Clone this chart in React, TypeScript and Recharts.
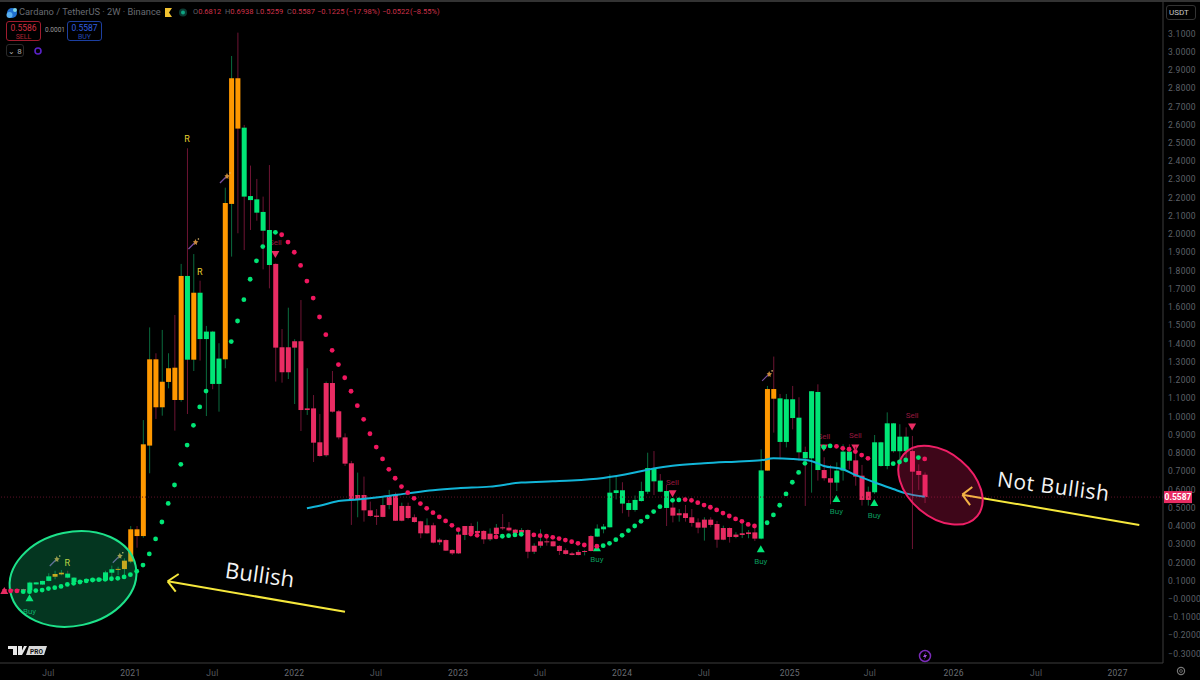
import React from "react";
import {
  ComposedChart,
  Bar,
  Line,
  XAxis,
  YAxis,
  ReferenceDot,
  ReferenceLine,
} from "recharts";

// 2W ADA/USDT candles
const opens = [
  0.053, 0.052, 0.053, 0.054, 0.046, 0.08, 0.079, 0.099, 0.122, 0.135,
  0.139, 0.117, 0.093, 0.099, 0.099, 0.1, 0.102, 0.144, 0.161, 0.164,
  0.205, 0.382, 0.345, 0.841, 1.314, 1.051, 1.19, 1.268, 1.091, 1.771,
  1.312, 1.679, 1.425, 1.466, 1.179, 1.314, 2.166, 2.855, 2.584, 2.209,
  2.191, 2.122, 2.023, 1.837, 1.38, 1.243, 1.378, 1.413, 1.036, 1.045,
  0.859, 0.788, 1.184, 1.029, 0.886, 0.744, 0.543, 0.57, 0.486, 0.457,
  0.45, 0.515, 0.57, 0.429, 0.51, 0.448, 0.426, 0.36, 0.404, 0.311,
  0.323, 0.269, 0.25, 0.351, 0.4, 0.362, 0.373, 0.327, 0.356, 0.393,
  0.391, 0.38, 0.364, 0.378, 0.259, 0.292, 0.316, 0.316, 0.291, 0.267,
  0.25, 0.241, 0.258, 0.263, 0.342, 0.382, 0.393, 0.581, 0.596, 0.526,
  0.488, 0.537, 0.588, 0.716, 0.649, 0.592, 0.501, 0.459, 0.47, 0.448,
  0.42, 0.391, 0.435, 0.411, 0.325, 0.389, 0.34, 0.351, 0.356, 0.365,
  0.331, 0.704, 1.151, 1.1, 0.861, 1.095, 0.994, 0.806, 0.771, 1.135,
  0.707, 0.662, 0.638, 0.704, 0.808, 0.76, 0.676, 0.543, 0.585, 0.859,
  0.729, 0.963, 0.81, 0.89, 0.811, 0.702, 0.6812,
];
const highs = [
  0.055, 0.054, 0.055, 0.056, 0.095, 0.092, 0.1, 0.141, 0.155, 0.159,
  0.155, 0.12, 0.104, 0.11, 0.113, 0.115, 0.155, 0.183, 0.177, 0.223,
  0.4, 0.4, 0.981, 1.489, 1.347, 1.475, 1.347, 1.557, 1.837, 2.471,
  1.891, 1.745, 1.497, 1.47, 1.402, 2.255, 2.977, 3.105, 2.599, 2.376,
  2.303, 2.206, 2.379, 1.84, 1.48, 1.597, 1.424, 1.639, 1.265, 1.118,
  1.014, 1.192, 1.25, 1.036, 0.908, 0.757, 0.693, 0.671, 0.534, 0.493,
  0.561, 0.598, 0.583, 0.528, 0.528, 0.464, 0.429, 0.442, 0.418, 0.333,
  0.327, 0.272, 0.369, 0.4, 0.415, 0.424, 0.378, 0.387, 0.411, 0.466,
  0.422, 0.384, 0.389, 0.382, 0.305, 0.382, 0.351, 0.32, 0.296, 0.278,
  0.258, 0.269, 0.269, 0.35, 0.409, 0.411, 0.683, 0.671, 0.64, 0.543,
  0.567, 0.643, 0.802, 0.811, 0.685, 0.625, 0.528, 0.493, 0.515, 0.493,
  0.442, 0.448, 0.448, 0.428, 0.402, 0.392, 0.366, 0.415, 0.378, 0.409,
  0.82, 1.168, 1.329, 1.124, 1.124, 1.168, 1.106, 0.835, 1.139, 1.177,
  0.777, 0.735, 0.749, 0.848, 0.848, 0.835, 0.735, 0.616, 0.899, 0.862,
  1.023, 0.965, 0.958, 0.941, 0.894, 0.738, 0.6938,
];
const lows = [
  0.044, 0.044, 0.044, 0.042, 0.031, 0.079, 0.078, 0.097, 0.108, 0.13,
  0.113, 0.077, 0.082, 0.095, 0.096, 0.098, 0.099, 0.122, 0.13, 0.122,
  0.196, 0.281, 0.336, 0.689, 0.987, 1.005, 1.155, 0.923, 1.082, 1.014,
  1.25, 1.307, 1.003, 1.15, 1.027, 1.265, 1.877, 2.005, 1.913, 2.023,
  2.074, 1.807, 1.703, 1.192, 1.186, 1.206, 1.069, 0.921, 1.009, 0.751,
  0.78, 0.78, 1.022, 0.875, 0.729, 0.406, 0.448, 0.424, 0.451, 0.406,
  0.448, 0.492, 0.428, 0.426, 0.437, 0.418, 0.333, 0.357, 0.305, 0.296,
  0.263, 0.241, 0.247, 0.323, 0.345, 0.36, 0.302, 0.318, 0.351, 0.378,
  0.369, 0.356, 0.347, 0.223, 0.247, 0.281, 0.292, 0.287, 0.241, 0.243,
  0.239, 0.239, 0.239, 0.261, 0.34, 0.36, 0.392, 0.546, 0.47, 0.451,
  0.479, 0.534, 0.576, 0.57, 0.585, 0.4, 0.42, 0.424, 0.424, 0.397,
  0.36, 0.32, 0.393, 0.281, 0.322, 0.309, 0.333, 0.334, 0.333, 0.318,
  0.327, 0.704, 0.912, 0.766, 0.831, 0.93, 0.758, 0.51, 0.583, 0.649,
  0.649, 0.519, 0.592, 0.649, 0.711, 0.621, 0.512, 0.512, 0.576, 0.725,
  0.711, 0.802, 0.744, 0.753, 0.274, 0.598, 0.5259,
];
const closes = [
  0.046, 0.046, 0.047, 0.046, 0.09, 0.091, 0.099, 0.124, 0.137, 0.144,
  0.117, 0.093, 0.1, 0.108, 0.111, 0.113, 0.146, 0.163, 0.165, 0.21,
  0.382, 0.345, 0.848, 1.314, 1.051, 1.191, 1.265, 1.091, 1.771, 1.312,
  1.679, 1.425, 1.466, 1.179, 1.318, 2.171, 2.855, 2.579, 2.206, 2.187,
  2.118, 2.019, 1.831, 1.378, 1.243, 1.38, 1.413, 1.036, 1.045, 0.857,
  0.784, 1.184, 1.027, 0.886, 0.742, 0.543, 0.57, 0.486, 0.455, 0.45,
  0.515, 0.567, 0.429, 0.51, 0.444, 0.422, 0.36, 0.404, 0.309, 0.325,
  0.265, 0.25, 0.353, 0.4, 0.356, 0.373, 0.327, 0.358, 0.391, 0.387,
  0.376, 0.362, 0.378, 0.259, 0.292, 0.316, 0.314, 0.289, 0.263, 0.247,
  0.241, 0.258, 0.263, 0.345, 0.386, 0.397, 0.583, 0.596, 0.523, 0.488,
  0.543, 0.592, 0.718, 0.645, 0.588, 0.499, 0.457, 0.47, 0.444, 0.417,
  0.391, 0.435, 0.406, 0.325, 0.389, 0.34, 0.353, 0.36, 0.365, 0.331,
  0.705, 1.151, 1.098, 0.861, 1.095, 0.992, 0.804, 0.771, 1.139, 0.707,
  0.662, 0.638, 0.704, 0.808, 0.758, 0.671, 0.543, 0.588, 0.859, 0.729,
  0.963, 0.81, 0.89, 0.81, 0.698, 0.68, 0.5587,
];
// candle colour state per run: r = bearish, g = bullish, o = strong bullish
const trendRuns: [string, number][] = [
  ["r", 4], ["g", 4], ["o", 2], ["g", 8], ["o", 11], ["g", 1], ["o", 1], ["g", 4],
  ["o", 3], ["g", 5], ["r", 51], ["g", 12], ["r", 14], ["g", 1], ["o", 2], ["g", 7],
  ["r", 2], ["g", 3], ["r", 3], ["g", 6], ["r", 3],
];
// trailing stop dots, null where the candle covers the dot in the picture
const sar = [
  0.044, 0.044, 0.044, 0.04, 0.04, 0.046, 0.049, 0.057, 0.062, 0.069,
  0.08, 0.086, 0.093, 0.099, 0.104, 0.106, 0.108, 0.111, 0.113, 0.121,
  0.133, 0.152, 0.186, 0.247, 0.329, 0.422, 0.524, 0.625, 0.738, 0.844,
  0.952, 1.053, 1.14, null, null, null, 1.411, 1.524, 1.641, 1.753,
  1.854, 1.932, null, 2.01, 1.997, 1.957, 1.901, 1.829, 1.743, 1.65,
  1.546, 1.449, 1.363, 1.285, 1.213, 1.139, 1.06, 0.985, 0.906, 0.833,
  0.768, 0.711, 0.662, 0.616, 0.583, 0.552, 0.523, 0.497, 0.473, 0.45,
  0.428, 0.404, 0.38, null, 0.356, 0.349, null, null, 0.34, 0.344,
  0.347, 0.351, 0.355, null, 0.351, 0.347, 0.344, 0.338, 0.331, 0.323,
  0.314, 0.305, 0.296, null, 0.289, 0.292, 0.305, 0.325, 0.349, 0.375,
  0.4, 0.426, 0.45, 0.479, 0.506, null, 0.541, 0.543, 0.545, 0.541,
  0.528, 0.515, 0.503, 0.488, 0.471, 0.455, 0.439, 0.426, 0.409, 0.4,
  null, 0.418, 0.461, 0.514, 0.576, 0.64, 0.694, 0.744, null, null,
  0.832, 0.839, 0.837, 0.826, 0.821, 0.808, 0.789, 0.771, null, null,
  null, 0.742, 0.751, 0.762, null, 0.775, 0.768,
];
const sarGreenRuns = [[3, 43], [79, 82], [95, 107], [120, 131], [138, 143], [145, 145]];
// moving average, sampled where it could be read
const maIndex = [48, 50, 53, 56, 60, 64, 68, 72, 77, 82, 87, 90, 95, 100, 103, 106, 111, 116, 120, 122, 125, 128, 130, 133, 135, 138, 141, 143, 146];
const maValue = [0.497, 0.511, 0.537, 0.546, 0.561, 0.579, 0.596, 0.607, 0.616, 0.638, 0.645, 0.649, 0.663, 0.693, 0.715, 0.731, 0.744, 0.753, 0.76, 0.771, 0.768, 0.757, 0.729, 0.711, 0.68, 0.64, 0.603, 0.579, 0.561];

const priceTicks = [3.1, 3.0, 2.9, 2.8, 2.7, 2.6, 2.5, 2.4, 2.3, 2.2, 2.1, 2.0, 1.9, 1.8, 1.7, 1.6, 1.5, 1.4, 1.3, 1.2, 1.1, 1.0, 0.9, 0.8, 0.7, 0.6, 0.5, 0.4, 0.3, 0.2, 0.1, 0, -0.1, -0.2, -0.3];
const lastPrice = 0.5587;
const timeTicks = [7, 20, 33, 46, 59, 72, 85, 98, 111, 124.6, 137.3, 150.6, 163.7, 176.6];
const timeLabels = ["Jul", "2021", "Jul", "2022", "Jul", "2023", "Jul", "2024", "Jul", "2025", "Jul", "2026", "Jul", "2027"];

// [bar, triangle price, label price]
const buySignals = [[4, 0.004, -0.064], [94, 0.278, 0.219], [120, 0.272, 0.207], [132, 0.548, 0.481], [138, 0.526, 0.459]];
const sellSignals = [[43, 1.891, 1.959], [106, 0.579, 0.64], [130, 0.83, 0.894], [135, 0.831, 0.897], [144, 0.945, 1.011]];
const rockets = [[8, 0.208], [18, 0.226], [30, 1.946], [35, 2.308], [121, 1.223]];
const rMarks = [[10, 0.196], [29, 2.522], [31, 1.793]];

const trend = trendRuns.flatMap(([t, n]) => Array(n).fill(t));
const isSarGreen = (i: number) => sarGreenRuns.some(([a, b]) => i >= a && i <= b);

const data = opens.map((open, i) => {
  const maAt = maIndex.indexOf(i);
  return {
    i,
    open,
    high: highs[i],
    low: lows[i],
    close: closes[i],
    trend: trend[i],
    sarGreen: isSarGreen(i) ? sar[i] : null,
    sarRed: isSarGreen(i) || i === 0 ? null : sar[i],
    ma: maAt >= 0 ? maValue[maAt] : null,
  };
});

const BODY: Record<string, string> = { g: "#00e676", o: "#ff9800", r: "#e92c63" };
const WICK_UP = "#0a6b3e";
const WICK_DOWN = "#6d1433";
const GREEN = "#00e676";
const PINK = "#f0175f";
const YELLOW = "#f6e83c";
const AXIS = "#3c3c3c";
const FONT = "Roboto, 'Liberation Sans', sans-serif";

function Candle(props: any) {
  const { x, y, width, height, payload } = props;
  const { open, high, low, close, trend: t } = payload;
  const perUnit = height / (high - low);
  const top = y + (high - Math.max(open, close)) * perUnit;
  const bodyH = Math.max(Math.abs(open - close) * perUnit, 1);
  const cx = x + width / 2;
  return (
    <g>
      <line x1={cx} x2={cx} y1={y} y2={y + height} stroke={close >= open ? WICK_UP : WICK_DOWN} strokeWidth={1} />
      <rect x={x} y={top} width={width} height={bodyH} fill={BODY[t]} />
    </g>
  );
}

function PriceTick(props: any) {
  const { x, y, payload } = props;
  if (payload.value === lastPrice) {
    return (
      <g>
        <rect x={x - 7} y={y - 6} width={28} height={12} fill="#e92c63" />
        <text x={x + 7} y={y + 3} textAnchor="middle" fontSize={8.5} fontFamily={FONT} fontWeight={700} fill="#fff">
          {lastPrice.toFixed(4)}
        </text>
      </g>
    );
  }
  const label = payload.value === 0 ? "\u22120.0000" : payload.value.toFixed(4).replace("-", "\u2212");
  return (
    <text x={x - 3} y={y + 3} fontSize={8.5} letterSpacing={0.3} fontFamily={FONT} fill="#5f6269">
      {label}
    </text>
  );
}

function TimeTick(props: any) {
  const { x, y, payload } = props;
  const label = timeLabels[timeTicks.indexOf(payload.value)];
  return (
    <text x={x} y={y + 5} textAnchor="middle" fontSize={8.5} fontFamily={FONT} letterSpacing={0.3} fill={label === "Jul" ? "#55585e" : "#6a6d73"}>
      {label}
    </text>
  );
}

const triangle = (cx: number, cy: number, up: boolean, fill: string) => (
  <path
    d={up ? `M${cx} ${cy - 4}L${cx + 4} ${cy + 3}L${cx - 4} ${cy + 3}Z` : `M${cx} ${cy + 4}L${cx + 4} ${cy - 3}L${cx - 4} ${cy - 3}Z`}
    fill={fill}
  />
);

const Label = (text: string, fill: string, size = 8) => (p: any) => (
  <text x={p.cx} y={p.cy + 3} textAnchor="middle" fontSize={size} fontFamily={FONT} fill={fill}>
    {text}
  </text>
);

const Wand = (p: any) => (
  <g transform={`translate(${p.cx} ${p.cy})`}>
    <line x1={-5} y1={5} x2={2} y2={-2} stroke="#7a4fa0" strokeWidth={1.2} />
    <path d="M2 -5L3 -3L5 -2.5L3.4 -1L3.6 1L2 0L0.5 1L1 -1L-0.5 -2.5L1.2 -3Z" fill="#c88a3c" />
    <circle cx={5} cy={-5} r={0.8} fill="#e8c070" />
  </g>
);

const Ellipse = (rx: number, ry: number, rot: number, fill: string, opacity: number, stroke: string) => (p: any) => (
  <ellipse cx={p.cx} cy={p.cy} rx={rx} ry={ry} transform={`rotate(${rot} ${p.cx} ${p.cy})`} fill={fill} fillOpacity={opacity} stroke={stroke} strokeWidth={2} />
);

const Note = (text: string, rot: number, size: number, spacing: number) => (p: any) => (
  <text
    x={p.cx}
    y={p.cy}
    transform={`rotate(${rot} ${p.cx} ${p.cy})`}
    textAnchor="middle"
    dominantBaseline="middle"
    fontFamily="'Open Sans', sans-serif"
    fontSize={size}
    letterSpacing={spacing}
    fill="#f4f4f4"
  >
    {text}
  </text>
);

const segment = (a: number[], b: number[]) => [{ x: a[0], y: a[1] }, { x: b[0], y: b[1] }];

const bullishArrow = [
  segment([25.92, 0.097], [54.04, -0.07]),
  segment([25.92, 0.097], [27.66, 0.137]),
  segment([25.92, 0.097], [27.19, 0.04]),
];
const notBullishArrow = [
  segment([151.97, 0.572], [180.04, 0.406]),
  segment([151.97, 0.572], [153.55, 0.614]),
  segment([151.97, 0.572], [153.2, 0.515]),
];

const box: React.CSSProperties = {
  position: "absolute",
  boxSizing: "border-box",
  borderRadius: 3,
  textAlign: "center",
  fontFamily: FONT,
  lineHeight: "9px",
  whiteSpace: "nowrap",
};
const abs = (left: number, top: number, color: string, fontSize: number, extra: React.CSSProperties = {}): React.CSSProperties => ({
  position: "absolute",
  left,
  top,
  color,
  fontSize,
  fontFamily: FONT,
  whiteSpace: "nowrap",
  ...extra,
});

const RED_TXT = "#d0324a";
const ohlcKeys = ["O", "H", "L", "C"];
const ohlcValues = ["0.6812", "0.6938", "0.5259", "0.5587"];
const ohlcLeft = [193, 225, 256, 287];
const changeTexts = ["\u22120.1225", "(\u221217.98%)", "\u22120.0522", "(\u22128.55%)"];
const changeLeft = [317, 346, 382, 410];

function Header() {
  return (
    <>
      <div style={{ position: "absolute", left: 0, top: 0, width: 1200, height: 2, background: "#333" }} />
      <svg style={{ position: "absolute", left: 5, top: 7 }} width={13} height={13}>
        <circle cx={7} cy={6} r={5} fill="#1f6fd0" />
        <circle cx={4.5} cy={8} r={3} fill="#5ab0f0" />
        <circle cx={10} cy={3} r={2} fill="#7fd6e8" />
      </svg>
      <div style={abs(19, 6, "#686b72", 9.3)}>Cardano / TetherUS · 2W · Binance</div>
      <svg style={{ position: "absolute", left: 165, top: 8 }} width={26} height={10}>
        <path d="M0 0H7V9H0Z M7 0L4 4.5L7 9Z" fill="#f2c230" />
        <circle cx={18} cy={4.5} r={4} fill="#0b3b33" />
        <circle cx={18} cy={4.5} r={2} fill="#0ea583" />
      </svg>
      {ohlcKeys.map((k, n) => (
        <div key={k} style={abs(ohlcLeft[n], 7, RED_TXT, 7.5)}>
          <span style={{ color: "#5f6269" }}>{k}</span>
          {ohlcValues[n]}
        </div>
      ))}
      {changeTexts.map((t, n) => (
        <div key={t} style={abs(changeLeft[n], 7, RED_TXT, 7.5)}>
          {t}
        </div>
      ))}

      <div style={{ ...box, left: 6, top: 21, width: 35, height: 20, border: "1px solid #a01c2e", color: "#d22f40", fontSize: 8.5, paddingTop: 2 }}>
        0.5586
        <div style={{ fontSize: 7, color: "#b02435" }}>SELL</div>
      </div>
      <div style={abs(45, 26, "#9a9a9a", 6.5)}>0.0001</div>
      <div style={{ ...box, left: 67, top: 21, width: 35, height: 20, border: "1px solid #1c3fa0", color: "#2f5fe0", fontSize: 8.5, paddingTop: 2 }}>
        0.5587
        <div style={{ fontSize: 7, color: "#2448b0" }}>BUY</div>
      </div>
      <div style={{ ...box, left: 6, top: 44, width: 18, height: 13, border: "1px solid #2a2a2a", color: "#b0b0b0", fontSize: 8, paddingTop: 1.5 }}>
        ⌄ 8
      </div>
      <svg style={{ position: "absolute", left: 33, top: 46 }} width={10} height={10}>
        <circle cx={5} cy={5} r={3} fill="none" stroke="#5a22c8" strokeWidth={1.6} />
      </svg>

      <div style={{ ...box, left: 1166, top: 5, width: 30, height: 15, border: "1px solid #333", color: "#c8c8c8", fontSize: 8, lineHeight: "13px", textAlign: "left", paddingLeft: 2 }}>
        USDT
      </div>

      <svg style={{ position: "absolute", left: 8, top: 646 }} width={42} height={11}>
        <path d="M0 0H9V9H5V3H0Z M10 0H14V9H10Z" fill="#e8e8e8" />
        <path d="M16 0H19L14 9H12Z" fill="#e8e8e8" />
        <path d="M21 0H39L36 9H18Z" fill="#d8d8d8" />
        <text x={28.5} y={7.5} textAnchor="middle" fontSize={6.5} fontWeight={700} fontFamily={FONT} fill="#111">
          PRO
        </text>
      </svg>
      <svg style={{ position: "absolute", left: 918, top: 649 }} width={14} height={14}>
        <circle cx={7} cy={7} r={5.5} fill="none" stroke="#7a2bb8" strokeWidth={1.5} />
        <path d="M8 3L5 8H7L6 11L9 6H7Z" fill="#a24be0" />
      </svg>
      <svg style={{ position: "absolute", left: 1175, top: 665 }} width={12} height={12}>
        <circle cx={6} cy={6} r={3.6} fill="none" stroke="#777" strokeWidth={1.2} />
        <circle cx={6} cy={6} r={1.4} fill="none" stroke="#777" strokeWidth={0.8} />
      </svg>
    </>
  );
}

export default function App() {
  return (
    <div style={{ position: "absolute", left: 0, top: 0, width: 1200, height: 680, background: "#000", overflow: "hidden" }}>
      <ComposedChart width={1200} height={680} data={data} margin={{ top: 2, right: 0, bottom: 0, left: 0 }}>
        <XAxis
          dataKey="i"
          type="number"
          domain={[-0.682, 183.8]}
          ticks={timeTicks}
          interval={0}
          height={17}
          tick={<TimeTick />}
          tickLine={false}
          axisLine={{ stroke: AXIS }}
          allowDataOverflow
        />
        <YAxis
          orientation="right"
          type="number"
          domain={[-0.351, 3.273]}
          ticks={[...priceTicks, lastPrice]}
          interval={0}
          width={37}
          tick={<PriceTick />}
          tickLine={false}
          axisLine={{ stroke: AXIS }}
          allowDataOverflow
        />

        <ReferenceLine y={lastPrice} stroke="#5c1027" strokeDasharray="1 2" />

        <Line dataKey="sarGreen" stroke="none" dot={{ r: 2.4, fill: GREEN, stroke: "none" }} isAnimationActive={false} zIndex={280} />
        <Line dataKey="sarRed" stroke="none" dot={{ r: 2.4, fill: PINK, stroke: "none" }} isAnimationActive={false} zIndex={280} />

        {sellSignals.map(([i, tri]) => (
          <ReferenceDot key={`st${i}`} x={i} y={tri} r={1} zIndex={290} shape={(p: any) => triangle(p.cx, p.cy, false, "#e92c63")} />
        ))}
        {sellSignals.map(([i, , lab]) => (
          <ReferenceDot key={`sl${i}`} x={i} y={lab} r={1} zIndex={290} shape={Label("Sell", "#96183f")} />
        ))}

        <Bar dataKey={(d: any) => [d.low, d.high]} barSize={5} shape={<Candle />} isAnimationActive={false} zIndex={300} />

        <Line dataKey="ma" stroke="#12b5d8" strokeWidth={2} dot={false} connectNulls type="monotone" isAnimationActive={false} />

        <ReferenceDot x={0} y={0.044} r={1} shape={(p: any) => triangle(p.cx, p.cy, true, "#e92c63")} />
        {buySignals.map(([i, tri]) => (
          <ReferenceDot key={`bt${i}`} x={i} y={tri} r={1} shape={(p: any) => triangle(p.cx, p.cy, true, GREEN)} />
        ))}
        {buySignals.map(([i, , lab]) => (
          <ReferenceDot key={`bl${i}`} x={i} y={lab} r={1} shape={Label("Buy", "#0a9a5c")} />
        ))}
        {rockets.map(([i, v]) => (
          <ReferenceDot key={`w${i}`} x={i} y={v} r={1} shape={Wand} />
        ))}
        {rMarks.map(([i, v]) => (
          <ReferenceDot key={`r${i}`} x={i} y={v} r={1} shape={Label("R", "#e6d230", 9)} />
        ))}

        <ReferenceDot x={10.9} y={0.11} r={1} shape={Ellipse(64, 47, -12, "#12e085", 0.24, "#1de28a")} />
        <ReferenceDot x={148.5} y={0.624} r={1} shape={Ellipse(48, 32, 40, "#f0175f", 0.26, "#ee1f66")} />

        {[...bullishArrow, ...notBullishArrow].map((s, k) => (
          <ReferenceLine key={k} segment={s} stroke={YELLOW} strokeWidth={2} />
        ))}
        <ReferenceDot x={40.5} y={0.122} r={1} shape={Note("Bullish", 8, 22, 0.2)} />
        <ReferenceDot x={166.4} y={0.608} r={1} shape={Note("Not Bullish", 7.5, 21, 0.6)} />
      </ComposedChart>
      <Header />
    </div>
  );
}
